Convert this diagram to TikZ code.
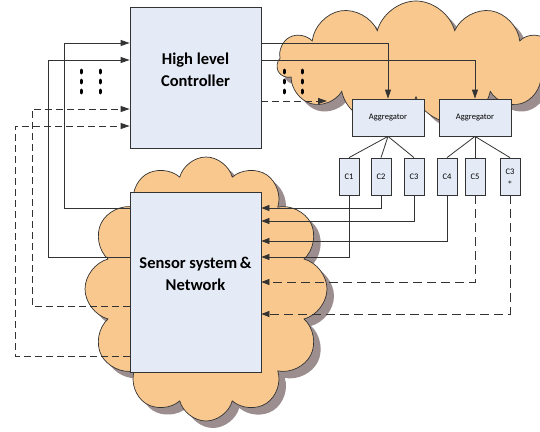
\documentclass[tikz,border=0pt]{standalone}
\usepackage{fontspec}
\setmainfont{Carlito}
\usetikzlibrary{shapes.symbols,shadows,arrows.meta}
\definecolor{cloudfill}{HTML}{F8C88F}
\definecolor{shadowgray}{HTML}{9C8E8E}
\definecolor{boxfill}{HTML}{E5EBF6}
\definecolor{linec}{HTML}{333333}
\tikzset{
  cloudbg/.style={cloud, cloud puffs=#1, cloud ignores aspect, draw=black!80, line width=0.7pt, fill=cloudfill,
    drop shadow={shadow xshift=7pt, shadow yshift=-7pt, fill=shadowgray, opacity=1}, inner sep=0pt},
  bigbox/.style={draw=black!80, line width=0.8pt, fill=boxfill, minimum width=131pt, inner sep=0pt},
  bigtext/.style={align=center, inner sep=0pt, font=\bfseries\fontsize{16.5}{22}\selectfont},
  aggbox/.style={draw=black!80, line width=0.8pt, fill=boxfill, minimum width=72pt, minimum height=37pt, inner sep=0pt,
    font=\fontsize{8.5}{9}\selectfont},
  cbox/.style={draw=black!80, line width=0.8pt, fill=boxfill, minimum width=20pt, minimum height=37pt, inner sep=0pt,
    font=\fontsize{8.5}{8}\selectfont, align=center},
  conn/.style={draw=linec, line width=0.8pt},
  arr/.style={conn, -{Triangle[length=9pt,width=6pt]}},
  arrs/.style={conn, -{Triangle[length=8pt,width=6pt]}},
  dsh/.style={dash pattern=on 7pt off 4pt},
  dshl/.style={dash pattern=on 9pt off 5pt},
  dotcol/.style={line width=3pt, line cap=round, dash pattern=on 3pt off 7pt, draw=black}
}
\begin{document}
\begin{tikzpicture}[x=1pt,y=-1pt]
\useasboundingbox (0,0) rectangle (540,431);
% clouds
\node[cloudbg=11, minimum width=278pt, minimum height=124pt] (cloudtop) at (416,63) {};
\node[cloudbg=12, minimum width=242pt, minimum height=264pt] (cloudbot) at (206,289) {};
% boxes
\node[bigbox, minimum height=141pt] (hlc) at (195.5,77.5) {};
\node[bigtext] (hlctext) at (195.5,70) {High level\\Controller};
\node[bigbox, minimum height=180pt] (sens) at (195.5,282) {};
\node[bigtext] (senstext) at (195.5,274) {Sensor system\,\&\\Network};
\node[aggbox] (agg1) at (388,117.5) {Aggregator};
\node[aggbox] (agg2) at (475,117.5) {Aggregator};
\node[cbox] (c1) at (349,176.5) {C1};
\node[cbox] (c2) at (381,176.5) {C2};
\node[cbox] (c3) at (414,176.5) {C3};
\node[cbox] (c4) at (447,176.5) {C4};
\node[cbox] (c5) at (475,176.5) {C5};
\node[cbox] (c3s) at (510,176.5) {C3\\[2pt]{\fontsize{8}{8}\selectfont $\ast$}};
% aggregator to C
\foreach \c in {c1,c2,c3} \draw[conn] (agg1.south) -- (\c.north);
\foreach \c in {c4,c5,c3s} \draw[conn] (agg2.south) -- (\c.north);
% feedback from sensor to HLC (left)
\draw[arr] (sens.west |- 0,208) -- (64,208) -- (64,43) -- (hlc.west |- 0,43);
\draw[arr] (sens.west |- 0,257) -- (48,257) -- (48,60) -- (hlc.west |- 0,60);
\draw[arr, dsh] (sens.west |- 0,306) -- (32,306) -- (32,109) -- (hlc.west |- 0,109);
\draw[arr, dsh] (sens.west |- 0,356) -- (15,356) -- (15,126) -- (hlc.west |- 0,126);
% HLC to aggregators
\draw[arr] (hlc.east |- 0,43) -| (agg1.north);
\draw[arr] (hlc.east |- 0,60) -| (agg2.north);
\coordinate (dshend) at (327,101);
\draw[arr, dsh] (hlc.east |- 0,101) -- (dshend);
% C to sensor
\draw[arrs] (c2.south) |- (sens.east |- 0,208);
\draw[arrs] (c3.south) |- (sens.east |- 0,221);
\draw[arrs] (c4.south) |- (sens.east |- 0,241);
\draw[arrs] (c1.south) |- (sens.east |- 0,257);
\draw[arrs, dshl] (c5.south) |- (sens.east |- 0,282);
\draw[arrs, dshl] (c3s.south) |- (sens.east |- 0,314);
% dots
\draw[dotcol] (81,70) -- (81,94);
\draw[dotcol] (100,70) -- (100,94);
\draw[dotcol] (284,70) -- (284,94);
\draw[dotcol] (302,70) -- (302,94);
\end{tikzpicture}
\end{document}
